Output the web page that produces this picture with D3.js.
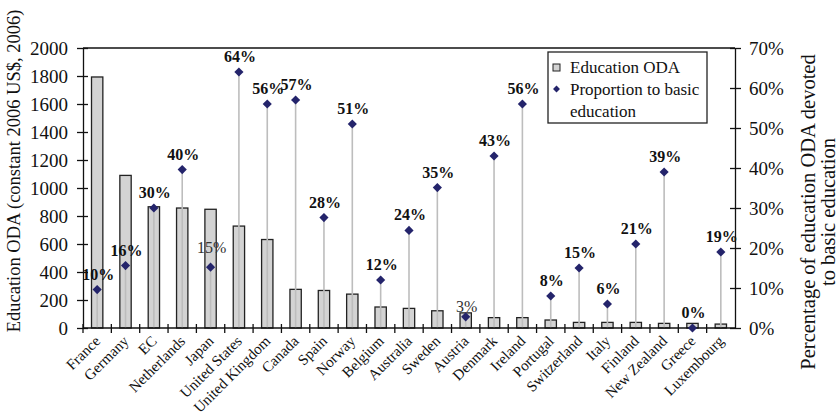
<!DOCTYPE html>
<html>
<head>
<meta charset="utf-8">
<script src="https://cdn.jsdelivr.net/npm/d3@7"></script>
<style>
  body { margin: 0; background: #fff; }
  svg, svg text { font-family: "Liberation Serif", "Times New Roman", Times, "DejaVu Serif", serif; }
  svg text { fill: #111; }
  .axis line, .axis path { stroke: #111; stroke-width: 1.3px; }
  .bar { fill: #d3d3d3; stroke: #222; stroke-width: 1.3px; }
  .drop { stroke: #bdbdbd; stroke-width: 1.6px; }
  .pmark { fill: #24246b; }
  .plabel { font-size: 16px; font-weight: bold; text-anchor: middle; }
  .plabel.plain { font-weight: normal; fill: #333; }
</style>
</head>
<body>
<div id="chart"></div>
<script>
// countries, in the order of the chart
var countries = ['France', 'Germany', 'EC', 'Netherlands', 'Japan', 'United States',
	'United Kingdom', 'Canada', 'Spain', 'Norway', 'Belgium', 'Australia', 'Sweden',
	'Austria', 'Denmark', 'Ireland', 'Portugal', 'Switzerland', 'Italy', 'Finland',
	'New Zealand', 'Greece', 'Luxembourg'];

// education ODA, constant 2006 US$ millions
var educationOda = [1793, 1090, 866, 857, 848, 728, 632, 276, 268, 242, 150, 140, 123,
	108, 74, 74, 57, 40, 40, 40, 33, 33, 28];

// share of education ODA devoted to basic education
var basicShare = [0.096, 0.156, 0.30, 0.396, 0.152, 0.64, 0.56, 0.57, 0.276, 0.51, 0.12,
	0.244, 0.351, 0.028, 0.43, 0.56, 0.08, 0.15, 0.06, 0.21, 0.39, 0.0, 0.19];

var leftTicks = [0, 200, 400, 600, 800, 1000, 1200, 1400, 1600, 1800, 2000];
var rightTicks = [0, 0.1, 0.2, 0.3, 0.4, 0.5, 0.6, 0.7];

// labels that the source drew in plain weight
var plainLabels = ['Japan', 'Austria'];

var width = 840, height = 416;
var plot = { left: 83, right: 735, top: 48, bottom: 328 };

var svg = d3.select('#chart').append('svg')
	.attr('width', width)
	.attr('height', height)
	.attr('font-family', '"Liberation Serif", "Times New Roman", serif');

var x = d3.scaleBand()
	.domain(countries)
	.range([plot.left, plot.right]);

var yLeft = d3.scaleLinear().domain([0, 2000]).range([plot.bottom, plot.top]);
var yRight = d3.scaleLinear().domain([0, 0.7]).range([plot.bottom, plot.top]);

var rows = countries.map(function(c, i) {
	return { country: c, oda: educationOda[i], share: basicShare[i] };
});

// top border
svg.append('line')
	.attr('x1', plot.left).attr('x2', plot.right)
	.attr('y1', plot.top).attr('y2', plot.top)
	.attr('stroke', '#111').attr('stroke-width', 1.3);

// bars
var barW = x.bandwidth() * 0.4;
svg.selectAll('.bar')
	.data(rows)
	.enter().append('rect')
	.attr('class', 'bar')
	.attr('x', function(d) { return x(d.country) + (x.bandwidth() - barW) / 2; })
	.attr('y', function(d) { return yLeft(d.oda); })
	.attr('width', barW)
	.attr('height', function(d) { return yLeft(0) - yLeft(d.oda); });

// drop lines from the markers
svg.selectAll('.drop')
	.data(rows)
	.enter().append('line')
	.attr('class', 'drop')
	.attr('x1', function(d) { return x(d.country) + x.bandwidth() / 2; })
	.attr('x2', function(d) { return x(d.country) + x.bandwidth() / 2; })
	.attr('y1', function(d) { return yRight(d.share); })
	.attr('y2', yRight(0));

// left axis
var gLeft = svg.append('g')
	.attr('class', 'axis')
	.attr('transform', 'translate(' + plot.left + ',0)')
	.call(d3.axisLeft(yLeft).tickValues(leftTicks).tickFormat(d3.format('d'))
		.tickSize(6).tickPadding(9).tickSizeOuter(0));
gLeft.attr('font-family', null).attr('font-size', null);
gLeft.selectAll('.tick line').attr('x1', 5);
gLeft.selectAll('text').style('font-size', '19px');

// right axis
var gRight = svg.append('g')
	.attr('class', 'axis')
	.attr('transform', 'translate(' + plot.right + ',0)')
	.call(d3.axisRight(yRight).tickValues(rightTicks).tickFormat(d3.format('.0%'))
		.tickSize(6).tickPadding(8).tickSizeOuter(0));
gRight.attr('font-family', null).attr('font-size', null);
gRight.selectAll('.tick line').attr('x1', -5);
gRight.selectAll('text').style('font-size', '19px');

// bottom axis, ticks between the categories
var gBottom = svg.append('g').attr('class', 'axis');
gBottom.append('line')
	.attr('x1', plot.left).attr('x2', plot.right)
	.attr('y1', plot.bottom).attr('y2', plot.bottom);
gBottom.selectAll('.sep')
	.data(countries)
	.enter().append('line')
	.attr('x1', function(d) { return x(d); })
	.attr('x2', function(d) { return x(d); })
	.attr('y1', plot.bottom - 4)
	.attr('y2', plot.bottom + 5);

svg.selectAll('.xlabel')
	.data(countries)
	.enter().append('text')
	.attr('class', 'xlabel')
	.attr('text-anchor', 'end')
	.style('font-size', '15px')
	.attr('transform', function(d) {
		return 'translate(' + (x(d) + x.bandwidth() / 2 + 4) + ',' + (plot.bottom + 14) + ') rotate(-45)';
	})
	.text(function(d) { return d; });

// diamond markers
var diamond = d3.symbol().type(d3.symbolSquare).size(42);
svg.selectAll('.pmark')
	.data(rows)
	.enter().append('path')
	.attr('class', 'pmark')
	.attr('d', diamond)
	.attr('transform', function(d) {
		return 'translate(' + (x(d.country) + x.bandwidth() / 2) + ',' + yRight(d.share) + ') rotate(45)';
	});

// percentage labels
svg.selectAll('.plabel')
	.data(rows)
	.enter().append('text')
	.attr('class', function(d) { return plainLabels.indexOf(d.country) >= 0 ? 'plabel plain' : 'plabel'; })
	.attr('x', function(d) { return x(d.country) + x.bandwidth() / 2 + 1; })
	.attr('y', function(d) {
		if (d.country === 'Austria') return yRight(d.share) - 5;
		if (d.country === 'Japan') return yRight(d.share) - 14;
		return yRight(d.share) - 10;
	})
	.text(function(d) { return Math.round(d.share * 100) + '%'; });

// axis titles
svg.append('text')
	.attr('transform', 'translate(20,' + 171 + ') rotate(-90)')
	.attr('text-anchor', 'middle')
	.style('font-size', '18.5px')
	.text('Education ODA (constant 2006 US$, 2006)');

var rightTitle = svg.append('text')
	.attr('transform', 'translate(815,' + 212 + ') rotate(-90)')
	.attr('text-anchor', 'middle')
	.style('font-size', '20.5px');
rightTitle.append('tspan').attr('x', 0).attr('y', 0).text('Percentage of education ODA devoted');
rightTitle.append('tspan').attr('x', 0).attr('y', 20).text('to basic education');

// legend
var legend = svg.append('g').attr('transform', 'translate(548,52)');
legend.append('rect')
	.attr('width', 159).attr('height', 71)
	.attr('fill', '#fff').attr('stroke', '#222').attr('stroke-width', 1.3);
legend.append('rect')
	.attr('class', 'bar')
	.attr('x', 5).attr('y', 12).attr('width', 7).attr('height', 7)
	.style('stroke-width', '1px');
legend.append('path')
	.attr('class', 'pmark')
	.attr('d', d3.symbol().type(d3.symbolSquare).size(24))
	.attr('transform', 'translate(8.5,37) rotate(45)');
var legText = legend.append('text').style('font-size', '17px');
legText.append('tspan').attr('x', 22).attr('y', 21).text('Education ODA');
legText.append('tspan').attr('x', 22).attr('y', 43).text('Proportion to basic');
legText.append('tspan').attr('x', 22).attr('y', 65).text('education');
</script>
</body>
</html>
